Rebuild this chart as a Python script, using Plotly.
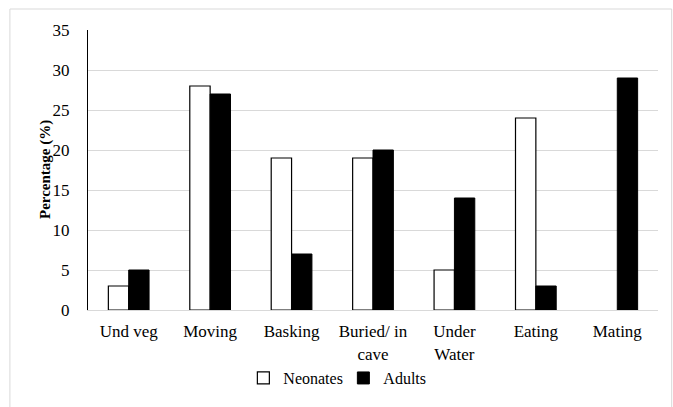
import plotly.graph_objects as go

categories = ["Und veg", "Moving", "Basking", "Buried/ in<br>cave", "Under<br>Water", "Eating", "Mating"]
neonates = [3, 28, 19, 19, 5, 24, 0]
adults = [5, 27, 7, 20, 14, 3, 29]
y_ticks = [0, 5, 10, 15, 20, 25, 30, 35]

serif = "Liberation Serif"

# zero-height bars get no outline so they stay invisible
neo_outline = [1.2 if v > 0 else 0 for v in neonates]
adult_outline = [1 if v > 0 else 0 for v in adults]

fig = go.Figure()
fig.add_trace(go.Bar(
    name="Neonates", x=categories, y=neonates,
    marker=dict(color="white", line=dict(color="black", width=neo_outline)),
))
fig.add_trace(go.Bar(
    name="Adults", x=categories, y=adults,
    marker=dict(color="black", line=dict(color="black", width=adult_outline)),
))

fig.update_layout(
    width=673, height=407,
    margin=dict(l=88, r=15, t=30, b=97),
    paper_bgcolor="white", plot_bgcolor="white",
    barmode="group", bargap=0.5, bargroupgap=0,
    font=dict(family=serif, size=17, color="black"),
    showlegend=True,
    legend=dict(orientation="h", x=0.448, xanchor="center", y=-0.243, yanchor="middle",
                font=dict(family=serif, size=16, color="black"), itemwidth=30,
                entrywidth=55, traceorder="normal"),
    xaxis=dict(showline=True, linecolor="#d9d9d9", linewidth=1, ticks="",
               ticklabelstandoff=6, tickfont=dict(family=serif, size=17)),
    yaxis=dict(range=[0, 35], tickvals=y_ticks, showgrid=True, gridcolor="#d9d9d9",
               gridwidth=1, zeroline=False, showline=True, linecolor="black", linewidth=1.2,
               ticks="", ticklen=0, ticklabelstandoff=14, tickfont=dict(family=serif, size=17)),
    annotations=[dict(text="<b>Percentage (%)</b>", xref="paper", yref="paper",
                      x=-0.0754, y=0.5, textangle=-90, showarrow=False,
                      xanchor="center", yanchor="middle",
                      font=dict(family=serif, size=15, color="black"))],
    shapes=[dict(type="rect", xref="paper", yref="paper",
                 x0=-0.137, x1=1.024, y0=-0.5, y1=1.075,
                 line=dict(color="#d9d9d9", width=1), layer="below")],
)

fig.write_html("out.html")
